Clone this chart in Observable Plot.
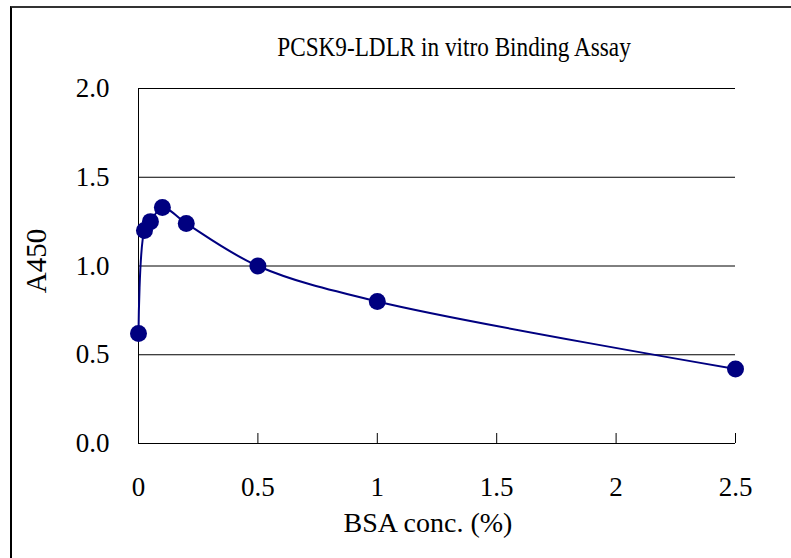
<!DOCTYPE html>
<html>
<head>
<meta charset="utf-8">
<script src="https://cdn.jsdelivr.net/npm/d3@7"></script>
<script src="https://cdn.jsdelivr.net/npm/@observablehq/plot@0.6"></script>
<style>
  body { margin: 0; background: #fff; }
  #wrap { position: relative; width: 791px; height: 558px; overflow: hidden; background: #fff;
          font-family: "Liberation Serif", "Times New Roman", serif; color: #000; }
  #frame { position: absolute; left: 10px; top: 6px; width: 900px; height: 700px;
           border-left: 2px solid #000; border-top: 2px solid #333; box-sizing: border-box; }
  #chart { position: absolute; left: 0; top: 0; }
  .lbl { position: absolute; white-space: nowrap; }
  #title { left: 454px; top: 47px; transform: translate(-50%, -50%) scaleX(0.86); font-size: 27px; }
  #xlabel { left: 428px; top: 523px; transform: translate(-50%, -50%); font-size: 28px; }
  #ylabel { left: 36px; top: 261px; transform: translate(-50%, -50%) rotate(-90deg); font-size: 29px; }
</style>
</head>
<body>
<div id="wrap">
  <div id="frame"></div>
  <div id="chart"></div>
  <div class="lbl" id="title"></div>
  <div class="lbl" id="xlabel"></div>
  <div class="lbl" id="ylabel"></div>
</div>
<script>
const chartTitle = "PCSK9-LDLR in vitro Binding Assay";
const xTitle = "BSA conc. (%)";
const yTitle = "A450";
const bsaConc = [0, 0.025, 0.05, 0.1, 0.2, 0.5, 1, 2.5];
const a450 = [0.62, 1.20, 1.25, 1.33, 1.24, 1.00, 0.80, 0.42];
const xTicks = [0, 0.5, 1, 1.5, 2, 2.5];
const xTickLabels = ["0", "0.5", "1", "1.5", "2", "2.5"];
const yTicks = [0, 0.5, 1, 1.5, 2];
const yTickLabels = ["0.0", "0.5", "1.0", "1.5", "2.0"];

const data = bsaConc.map((x, i) => ({x, y: a450[i]}));
const navy = "#000080";

const chart = Plot.plot({
  width: 791,
  height: 558,
  marginLeft: 138,
  marginRight: 56,
  marginTop: 88,
  marginBottom: 115,
  style: {fontFamily: "'Liberation Serif', 'Times New Roman', serif", fontSize: "27px", background: "transparent", color: "#000"},
  x: {domain: [0, 2.5]},
  y: {domain: [0, 2]},
  marks: [
    Plot.ruleY(yTicks, {stroke: "#000", strokeWidth: 1}),
    Plot.ruleX([0], {stroke: "#000", strokeWidth: 1}),
    Plot.axisY(yTicks, {tickSize: 0, tickPadding: 29, label: null,
      tickFormat: (d) => yTickLabels[yTicks.indexOf(d)], fontSize: 27}),
    Plot.axisX(xTicks, {tickSize: -10, tickPadding: 43, label: null,
      tickFormat: (d) => xTickLabels[xTicks.indexOf(d)], fontSize: 27}),
    Plot.line(data, {x: "x", y: "y", stroke: navy, strokeWidth: 2, curve: "catmull-rom"}),
    Plot.dot(data, {x: "x", y: "y", r: 8.5, fill: navy, stroke: "none"})
  ]
});
document.getElementById("chart").appendChild(chart);
document.getElementById("title").textContent = chartTitle;
document.getElementById("xlabel").textContent = xTitle;
document.getElementById("ylabel").textContent = yTitle;
</script>
</body>
</html>
